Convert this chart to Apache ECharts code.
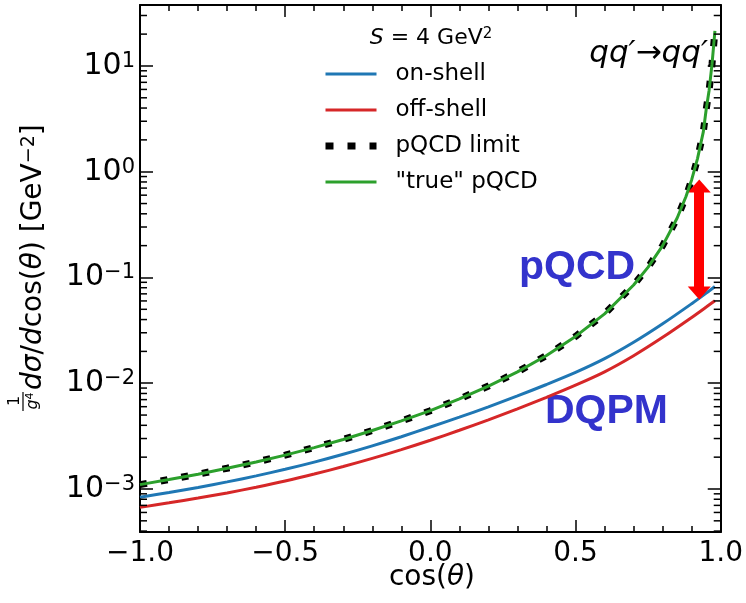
<!DOCTYPE html>
<html>
<head>
<meta charset="utf-8">
<script src="https://cdn.jsdelivr.net/npm/echarts@6/dist/echarts.min.js"></script>
<style>
html, body { margin: 0; padding: 0; background: #fff; }
#chart { width: 746px; height: 603px; }
</style>
</head>
<body>
<div id="chart"></div>
<script>
// values (log y)
var cosDqpm = [-1.0, -0.9, -0.8, -0.7, -0.6, -0.5, -0.4, -0.3, -0.2, -0.1, 0.0,
               0.1, 0.2, 0.3, 0.4, 0.5, 0.6, 0.7, 0.8, 0.9, 0.95, 0.98];
var onShell = [8.36e-4, 9.27e-4, 1.035e-3, 1.167e-3, 1.33e-3, 1.535e-3, 1.795e-3, 2.13e-3, 2.56e-3, 3.12e-3, 3.855e-3,
               4.775e-3, 5.98e-3, 7.59e-3, 9.73e-3, 0.01265, 0.01706, 0.02438, 0.03648, 0.0565, 0.0711, 0.0822];
var offShell = [6.70e-4, 7.40e-4, 8.20e-4, 9.18e-4, 1.04e-3, 1.19e-3, 1.384e-3, 1.63e-3, 1.945e-3, 2.355e-3, 2.89e-3,
                3.59e-3, 4.51e-3, 5.73e-3, 7.36e-3, 9.59e-3, 0.01282, 0.0182, 0.02716, 0.04188, 0.0525, 0.0603];

var cosPqcd = [-1.0, -0.9, -0.8, -0.7, -0.6, -0.5, -0.4, -0.3, -0.2, -0.1, 0.0,
               0.1, 0.2, 0.3, 0.4, 0.5, 0.6, 0.7, 0.75, 0.8, 0.85, 0.88, 0.9, 0.92, 0.94, 0.95, 0.96, 0.97, 0.98];
var pqcdLimit = [1.10e-3, 1.23e-3, 1.38e-3, 1.57e-3, 1.80e-3, 2.09e-3, 2.46e-3, 2.94e-3, 3.57e-3, 4.40e-3, 5.50e-3,
                 7.10e-3, 9.40e-3, 0.0128, 0.0183, 0.0277, 0.0453, 0.0848, 0.1254, 0.200, 0.365, 0.58, 0.84, 1.33, 2.38, 3.9, 5.9, 10.4, 21.5];
var truePqcd = [1.10e-3, 1.23e-3, 1.38e-3, 1.57e-3, 1.80e-3, 2.09e-3, 2.46e-3, 2.94e-3, 3.57e-3, 4.40e-3, 5.50e-3,
                7.10e-3, 9.40e-3, 0.0128, 0.0183, 0.0277, 0.0453, 0.0848, 0.1254, 0.200, 0.365, 0.58, 0.84, 1.33, 2.38, 3.9, 5.9, 10.4, 21.5];

var seriesNames = ['on-shell', 'off-shell', 'pQCD limit', '"true" pQCD'];
var xTickLabels = ['\u22121.0', '\u22120.5', '0.0', '0.5', '1.0'];

// red double arrow (cos, top, bottom)
var arrowX = 0.926;
var arrowY = [0.733, 0.0713];

var yMin = 3.92e-4, yMax = 37.7;
var FONT = 'DejaVu Sans';

function pairs(xs, ys) {
    return xs.map(function (x, i) { return [x, ys[i]]; });
}

// minor log ticks (2..9 per decade)
var minorY = [];
for (var e = -4; e <= 1; e++) {
    for (var k = 2; k <= 9; k++) {
        var v = k * Math.pow(10, e);
        if (v > yMin && v < yMax) minorY.push([0, v]);
    }
}

var chart = echarts.init(document.getElementById('chart'));

var supRich = {
    b: { fontSize: 30, fontFamily: FONT, color: '#000' },
    s: { fontSize: 21, fontFamily: FONT, color: '#000', verticalAlign: 'top' }
};

function yLabel(val) {
    var lg = Math.log10(val);
    var n = Math.round(lg);
    if (Math.abs(lg - n) > 1e-6) return '';
    return '{b|10}{s|' + (n < 0 ? '\u2212' : '') + Math.abs(n) + '}';
}

function xLabel(val) {
    var idx = Math.round((val + 1) / 0.5);
    return xTickLabels[idx] || '';
}

var option = {
    backgroundColor: '#fff',
    animation: false,
    grid: { left: 140, right: 25, top: 5, bottom: 71 },
    legend: {
        data: [
            { name: seriesNames[0], lineStyle: { width: 3 } },
            { name: seriesNames[1], lineStyle: { width: 3 } },
            { name: seriesNames[2], lineStyle: { width: 7, type: [8, 14], cap: 'butt' } },
            { name: seriesNames[3], lineStyle: { width: 3 } }
        ],
        orient: 'vertical',
        left: 322,
        top: 62,
        padding: 0,
        itemWidth: 51,
        itemHeight: 24,
        itemGap: 12,
        selectedMode: false,
        itemStyle: { opacity: 0 },
        textStyle: { fontFamily: FONT, fontSize: 23, color: '#000', lineHeight: 24, padding: [0, 0, 0, 14] }
    },
    xAxis: [{
        type: 'value', min: -1, max: 1, interval: 0.5,
        axisLine: { onZero: false, lineStyle: { color: '#000', width: 2 } },
        axisTick: { inside: true, length: 12, lineStyle: { color: '#000', width: 1.5 } },
        minorTick: { show: true, splitNumber: 5, length: 6, lineStyle: { color: '#000', width: 1.5 } },
        splitLine: { show: false },
        axisLabel: { formatter: xLabel, fontFamily: FONT, fontSize: 28, color: '#000', margin: 8 }
    }, {
        type: 'value', min: -1, max: 1, interval: 0.5, position: 'top',
        axisLine: { onZero: false, lineStyle: { color: '#000', width: 2 } },
        axisTick: { inside: true, length: 12, lineStyle: { color: '#000', width: 1.5 } },
        minorTick: { show: true, splitNumber: 5, length: 6, lineStyle: { color: '#000', width: 1.5 } },
        splitLine: { show: false },
        axisLabel: { show: false }
    }],
    yAxis: [{
        type: 'log', logBase: 10, min: yMin, max: yMax, position: 'left',
        axisLine: { show: true, onZero: false, lineStyle: { color: '#000', width: 2 } },
        axisTick: { inside: true, length: 13, lineStyle: { color: '#000', width: 1.5 } },
        splitLine: { show: false },
        axisLabel: { formatter: yLabel, rich: supRich, margin: 5 }
    }, {
        type: 'log', logBase: 10, min: yMin, max: yMax, position: 'right',
        axisLine: { show: true, onZero: false, lineStyle: { color: '#000', width: 2 } },
        axisTick: { inside: true, length: 13, lineStyle: { color: '#000', width: 1.5 } },
        splitLine: { show: false },
        axisLabel: { show: false }
    }],
    series: [{
        name: 'on-shell', type: 'line', symbol: 'none', z: 3, smooth: 0.3,
        data: pairs(cosDqpm, onShell),
        lineStyle: { color: '#1f77b4', width: 3 },
        itemStyle: { color: '#1f77b4' }
    }, {
        name: 'off-shell', type: 'line', symbol: 'none', z: 3, smooth: 0.3,
        data: pairs(cosDqpm, offShell),
        lineStyle: { color: '#d62728', width: 3 },
        itemStyle: { color: '#d62728' }
    }, {
        name: 'pQCD limit', type: 'line', symbol: 'none', z: 4,
        data: pairs(cosPqcd, pqcdLimit),
        lineStyle: { color: '#000', width: 7, type: [7, 14], cap: 'butt' },
        itemStyle: { color: '#000' }
    }, {
        name: '"true" pQCD', type: 'line', symbol: 'none', z: 5,
        data: pairs(cosPqcd, truePqcd),
        lineStyle: { color: '#2ca02c', width: 3 },
        itemStyle: { color: '#2ca02c' },
        markLine: {
            silent: true,
            symbol: ['triangle', 'triangle'],
            symbolSize: [23, 13],
            label: { show: false },
            lineStyle: { color: '#ff0000', width: 10, type: 'solid' },
            itemStyle: { color: '#ff0000' },
            data: [[{ coord: [arrowX, arrowY[0]] }, { coord: [arrowX, arrowY[1]] }]]
        }
    }, {
        type: 'custom', silent: true, z: 6,
        data: minorY,
        renderItem: function (params, api) {
            var v = api.value(1);
            var pl = api.coord([-1, v]);
            var pr = api.coord([1, v]);
            var st = { stroke: '#000', lineWidth: 1.5 };
            return {
                type: 'group',
                children: [
                    { type: 'line', shape: { x1: pl[0], y1: pl[1], x2: pl[0] + 7, y2: pl[1] }, style: st },
                    { type: 'line', shape: { x1: pr[0] - 7, y1: pr[1], x2: pr[0], y2: pr[1] }, style: st }
                ]
            };
        }
    }],
    graphic: [{
        type: 'text', x: 431, y: 38,
        style: {
            text: '{i|S} = 4 GeV{s|2}',
            fontFamily: FONT, fontSize: 22, fill: '#000',
            align: 'center', verticalAlign: 'middle',
            rich: {
                i: { fontFamily: FONT, fontSize: 22, fontStyle: 'italic' },
                s: { fontFamily: FONT, fontSize: 15, verticalAlign: 'top' }
            }
        }
    }, {
        type: 'text', x: 708, y: 54,
        style: {
            text: 'qq\u2032\u2192qq\u2032',
            fontFamily: FONT, fontSize: 31, fontStyle: 'italic', fill: '#000',
            align: 'right', verticalAlign: 'middle'
        }
    }, {
        type: 'text', x: 519, y: 268,
        style: {
            text: 'pQCD', fontFamily: 'Liberation Sans', fontWeight: 'bold', fontSize: 41,
            fill: '#3333cc', align: 'left', verticalAlign: 'middle'
        }
    }, {
        type: 'text', x: 545, y: 412,
        style: {
            text: 'DQPM', fontFamily: 'Liberation Sans', fontWeight: 'bold', fontSize: 41,
            fill: '#3333cc', align: 'left', verticalAlign: 'middle'
        }
    }, {
        type: 'text', x: 432, y: 578,
        style: {
            text: 'cos({i|\u03b8})', fontFamily: FONT, fontSize: 28, fill: '#000',
            align: 'center', verticalAlign: 'middle',
            rich: { i: { fontFamily: FONT, fontSize: 28, fontStyle: 'italic' } }
        }
    }, {
        // y axis title, rotated
        type: 'text', x: 34, y: 390, rotation: Math.PI / 2,
        style: {
            text: '{i|d\u03c3}/{i|d}cos({i|\u03b8}) [GeV{s|\u22122}]',
            fontFamily: FONT, fontSize: 28, fill: '#000',
            align: 'left', verticalAlign: 'middle',
            rich: {
                i: { fontFamily: FONT, fontSize: 28, fontStyle: 'italic' },
                s: { fontFamily: FONT, fontSize: 19, verticalAlign: 'top' }
            }
        }
    }, {
        type: 'text', x: 15, y: 401, rotation: Math.PI / 2,
        style: { text: '1', fontFamily: FONT, fontSize: 16, fill: '#000', align: 'center', verticalAlign: 'middle' }
    }, {
        type: 'line', shape: { x1: 23, y1: 392, x2: 23, y2: 411 },
        style: { stroke: '#000', lineWidth: 1.2 }
    }, {
        type: 'text', x: 33, y: 401, rotation: Math.PI / 2,
        style: {
            text: '{i|g}{s|4}', fontFamily: FONT, fontSize: 16, fill: '#000',
            align: 'center', verticalAlign: 'middle',
            rich: {
                i: { fontFamily: FONT, fontSize: 16, fontStyle: 'italic' },
                s: { fontFamily: FONT, fontSize: 11, verticalAlign: 'top' }
            }
        }
    }]
};

chart.setOption(option);
</script>
</body>
</html>
